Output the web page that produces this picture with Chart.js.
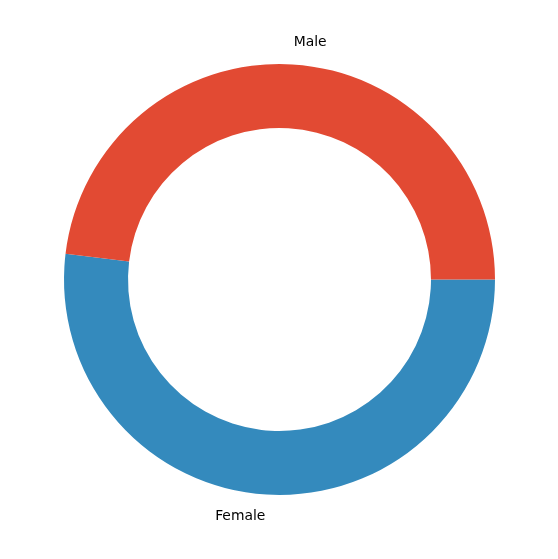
<!DOCTYPE html>
<html>
<head>
<meta charset="utf-8">
<script src="https://cdn.jsdelivr.net/npm/chart.js@4"></script>
<style>
  html, body { margin: 0; padding: 0; background: #ffffff; }
  #wrap { width: 558px; height: 559px; }
</style>
</head>
<body>
<div id="wrap"><canvas id="genderChart" width="558" height="559"></canvas></div>
<script>
// drawn clockwise from the right, so Female comes first
const categories = ["Female", "Male"];
const shares = [51.9, 48.1];
const sliceColors = ["#348ABD", "#E24A33"];

// labels outside each wedge, like matplotlib's pie labels at 1.1 x radius
const outerLabels = {
  id: "outerLabels",
  afterDatasetsDraw(chart) {
    const { ctx } = chart;
    const meta = chart.getDatasetMeta(0);
    ctx.save();
    ctx.font = "13.9px 'DejaVu Sans'";
    ctx.fillStyle = "#000000";
    ctx.textBaseline = "middle";
    meta.data.forEach((arc, i) => {
      const mid = (arc.startAngle + arc.endAngle) / 2;
      const r = arc.outerRadius * 1.1;
      const x = arc.x + Math.cos(mid) * r;
      const y = arc.y + Math.sin(mid) * r;
      ctx.textAlign = Math.cos(mid) >= 0 ? "left" : "right";
      ctx.fillText(categories[i], x, y);
    });
    ctx.restore();
  }
};

const canvas = document.getElementById("genderChart");
new Chart(canvas.getContext("2d"), {
  type: "doughnut",
  data: {
    labels: categories,
    datasets: [{
      data: shares,
      backgroundColor: sliceColors,
      borderWidth: 0,
      hoverOffset: 0
    }]
  },
  options: {
    responsive: false,
    animation: false,
    rotation: 90,
    cutout: "70.3%",
    layout: { padding: { left: 64, right: 63, top: 64, bottom: 64 } },
    plugins: {
      legend: { display: false },
      tooltip: { enabled: false }
    }
  },
  plugins: [outerLabels]
});
</script>
</body>
</html>
